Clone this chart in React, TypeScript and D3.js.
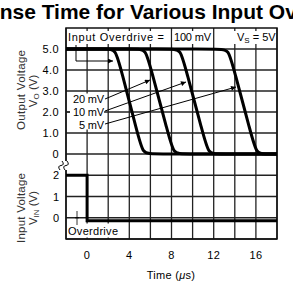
import React from "react";
import * as d3 from "d3";

const W = 293;
const H = 281;

const xTicks = [0, 4, 8, 12, 16];
const xGrid = [-2, 0, 2, 4, 6, 8, 10, 12, 14, 16, 18];
const yTopTicks = [0, 1, 2, 3, 4, 5];
const yTopTickLabels = ["0", "1.0", "2.0", "3.0", "4.0", "5.0"];
const yBotTicks = [0, 1, 2];
const yBotTickLabels = ["0", "1", "2"];

// output voltage curves [time µs, volts]
const out100: [number, number][] = [[-2, 5], [1.9, 5], [2.7, 5], [3.2, 4.05], [4.8, 0.95], [5.3, 0], [6.1, 0], [18, 0]];
const out20: [number, number][] = [[-2, 5], [4.75, 5], [5.55, 5], [6.05, 4.05], [7.7, 0.95], [8.2, 0], [9.0, 0], [18, 0]];
const out10: [number, number][] = [[-2, 5], [8.05, 5], [8.85, 5], [9.35, 4.05], [11.0, 0.95], [11.5, 0], [12.3, 0], [18, 0]];
const out5: [number, number][] = [[-2, 5], [12.6, 5], [13.4, 5], [13.9, 4.05], [15.55, 0.95], [16.05, 0], [16.85, 0], [18, 0]];
const outputs = [out100, out20, out10, out5];

// input voltage step
const inputV: [number, number][] = [[-2, 2], [0, 2], [0, -0.14], [18, -0.14]];

const x = d3.scaleLinear().domain([-2, 18]).range([66, 277]);
const yT = d3.scaleLinear().domain([0, 6]).range([154, 28]);
const yB = d3.scaleLinear().domain([-1, 3]).range([239, 154]);

const font = "'Liberation Sans', Arial, sans-serif";
const gridColor = "#222";

export default function App() {
  const lineT = d3.line<[number, number]>().x(d => x(d[0])).y(d => yT(d[1])).curve(d3.curveBasis);
  const lineB = d3.line<[number, number]>().x(d => x(d[0])).y(d => yB(d[1]));

  const left = x(-2), right = x(18), top = yT(6), bottom = yB(-1);

  return (
    <svg width={W} height={H} style={{ position: "fixed", left: 0, top: 0, background: "#fff" }} fontFamily={font}>
      <defs>
        <marker id="arr" viewBox="0 0 10 10" refX="10" refY="5" markerWidth="7" markerHeight="5" orient="auto" markerUnits="userSpaceOnUse">
          <path d="M0,0 L10,5 L0,10 z" fill="#000" />
        </marker>
      </defs>
      <rect x={0} y={0} width={W} height={H} fill="#fff" />
      <text x={157} y={19} textAnchor="middle" fontSize={21} fontWeight="bold" fill="#000">
        Response Time for Various Input Overdrives
      </text>

      {/* grid */}
      {xGrid.map(t => (
        <line key={"vx" + t} x1={x(t)} x2={x(t)} y1={top} y2={bottom} stroke={gridColor} strokeWidth={1.3} />
      ))}
      {yTopTicks.map(v => (
        <line key={"ht" + v} x1={left} x2={right} y1={yT(v)} y2={yT(v)} stroke={gridColor} strokeWidth={1.3} />
      ))}
      {[-1, 0, 1, 2].map(v => (
        <line key={"hb" + v} x1={left} x2={right} y1={yB(v)} y2={yB(v)} stroke={gridColor} strokeWidth={1.3} />
      ))}
      <rect x={left} y={top} width={right - left} height={bottom - top} fill="none" stroke="#111" strokeWidth={1.5} />

      {/* header masks */}
      <rect x={67.5} y={31} width={101.5} height={13} fill="#fff" />
      <rect x={172.5} y={31} width={40} height={13} fill="#fff" />
      <rect x={215.5} y={31} width={60} height={13} fill="#fff" />
      <text x={68} y={41} fontSize={11} fill="#000" textLength={96} lengthAdjust="spacing">Input Overdrive =</text>
      <text x={174} y={41} fontSize={11} fill="#000" textLength={37} lengthAdjust="spacing">100 mV</text>
      <text x={237} y={41} fontSize={11} fill="#000">
        V<tspan fontSize={8} dy={2}>S</tspan><tspan dy={-2}> = 5V</tspan>
      </text>

      {/* overdrive mask */}
      <rect x={67.5} y={223.5} width={52} height={14} fill="#fff" />
      <text x={68} y={235} fontSize={11} fill="#000" textLength={50} lengthAdjust="spacing">Overdrive</text>

      {/* input signal */}
      <path d={lineB(inputV) || ""} fill="none" stroke="#000" strokeWidth={3} />
      {/* overdrive marker */}
      <line x1={77} x2={77} y1={211} y2={225} stroke="#000" strokeWidth={0.8} />
      <line x1={75} x2={79} y1={yB(0)} y2={yB(0)} stroke="#000" strokeWidth={0.8} />

      {/* output curves */}
      {outputs.map((c, i) => (
        <path key={"c" + i} d={lineT(c) || ""} fill="none" stroke="#000" strokeWidth={3} strokeLinejoin="round" />
      ))}

      {/* annotation label masks */}
      <rect x={70} y={93.5} width={34} height={36} fill="#fff" />
      <line x1={left} x2={70} y1={yT(2)} y2={yT(2)} stroke={gridColor} strokeWidth={1.3} />

      {/* annotations */}
      <path d="M76,45 V61 H113" fill="none" stroke="#000" strokeWidth={1} markerEnd="url(#arr)" />
      <text x={104} y={103} fontSize={11} textAnchor="end" fill="#000" textLength={31} lengthAdjust="spacing">20 mV</text>
      <text x={104} y={116} fontSize={11} textAnchor="end" fill="#000" textLength={31} lengthAdjust="spacing">10 mV</text>
      <text x={104} y={129} fontSize={11} textAnchor="end" fill="#000" textLength={25} lengthAdjust="spacing">5 mV</text>
      <line x1={105} y1={99} x2={150} y2={80} stroke="#000" strokeWidth={1} markerEnd="url(#arr)" />
      <line x1={105} y1={111} x2={186} y2={82} stroke="#000" strokeWidth={1} markerEnd="url(#arr)" />
      <line x1={105} y1={124} x2={236} y2={87} stroke="#000" strokeWidth={1} markerEnd="url(#arr)" />

      {/* break symbol */}
      <rect x={59} y={161} width={14} height={9} fill="#fff" />
      <path d="M60,170 Q57,166 61,165.5 Q65,165 62,161" fill="none" stroke="#000" strokeWidth={1} />
      <path d="M65,170 Q62,166 66,165.5 Q70,165 67,161" fill="none" stroke="#000" strokeWidth={1} />

      {/* y tick labels */}
      {yTopTicks.map((v, i) => (
        <text key={"tl" + v} x={59} y={yT(v) + 4} fontSize={11} letterSpacing={0.4} textAnchor="end" fill="#000">{yTopTickLabels[i]}</text>
      ))}
      {yBotTicks.map((v, i) => (
        <text key={"bl" + v} x={59} y={yB(v) + 4} fontSize={11} textAnchor="end" fill="#000">{yBotTickLabels[i]}</text>
      ))}
      {/* x tick labels */}
      {xTicks.map(t => (
        <text key={"xl" + t} x={x(t)} y={259} fontSize={11} letterSpacing={0.4} textAnchor="middle" fill="#000">{t}</text>
      ))}
      <text x={171} y={279} fontSize={11} textAnchor="middle" fill="#000" letterSpacing={0.3}>
        Time (<tspan fontStyle="italic">μ</tspan>s)
      </text>

      {/* y axis titles */}
      <text transform="translate(25,90) rotate(-90)" fontSize={11.5} textAnchor="middle" fill="#333" textLength={80} lengthAdjust="spacing">Output Voltage</text>
      <text transform="translate(37,91) rotate(-90)" fontSize={11.5} textAnchor="middle" fill="#333">
        V<tspan fontSize={8} dy={2}>O</tspan><tspan dy={-2}> (V)</tspan>
      </text>
      <text transform="translate(25,208) rotate(-90)" fontSize={11.5} textAnchor="middle" fill="#333" textLength={70} lengthAdjust="spacing">Input Voltage</text>
      <text transform="translate(37,208) rotate(-90)" fontSize={11.5} textAnchor="middle" fill="#333">
        V<tspan fontSize={8} dy={2}>IN</tspan><tspan dy={-2}> (V)</tspan>
      </text>
    </svg>
  );
}
